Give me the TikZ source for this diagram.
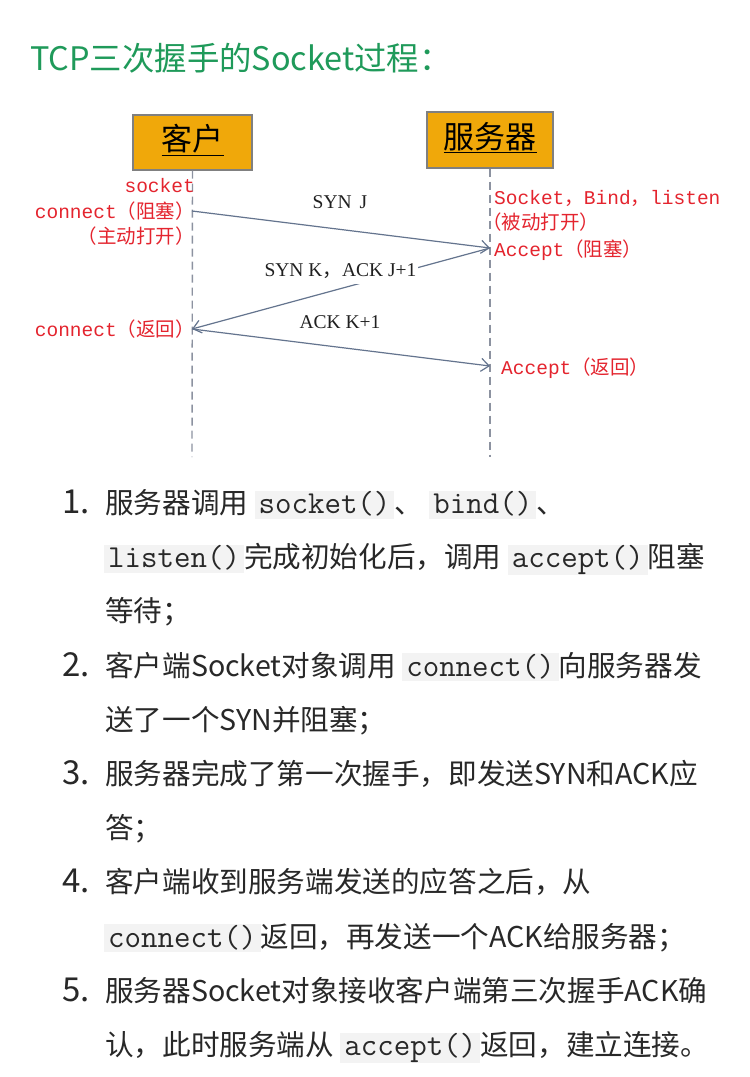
\documentclass[tikz,border=0pt]{standalone}
\usepackage{fontspec}
\setmainfont{Noto Sans CJK SC}
\newfontfamily\lmono{Liberation Mono}
\newfontfamily\tms{Liberation Serif}
\newfontfamily\cjk{Noto Sans CJK SC}
\usetikzlibrary{arrows.meta}
\definecolor{titlegreen}{RGB}{31,154,90}
\definecolor{boxorange}{RGB}{240,168,10}
\definecolor{boxline}{RGB}{128,128,128}
\definecolor{lblred}{RGB}{228,36,46}
\definecolor{arrowc}{RGB}{100,116,142}
\definecolor{lifec}{RGB}{140,146,160}
\definecolor{codebg}{RGB}{243,243,243}
\definecolor{txt}{RGB}{40,40,40}
\newcommand{\fsz}[1]{\fontsize{#1}{#1}\selectfont}
\newcommand{\codebox}[1]{{\setlength{\fboxsep}{0pt}\colorbox{codebg}{\rule[-5pt]{0pt}{28pt}\hspace{4pt}{\ttfamily\fsz{32}#1}\hspace{4pt}}}}
\tikzset{
  actor/.style={draw=boxline, line width=1.3pt, fill=boxorange, inner sep=0pt},
  lifeline/.style={draw=lifec, line width=1.4pt, dash pattern=on 8pt off 5pt},
  msgarrow/.style={draw=arrowc, line width=1.2pt, -{Straight Barb[length=8pt,width=13pt]}},
  redlbl/.style={text=lblred, inner sep=0pt, font=\lmono\fsz{19.5}},
  msglbl/.style={text=txt!80!black, inner sep=0pt, font=\tms\fsz{19.5}},
  listtxt/.style={text=txt, inner sep=0pt, anchor=base west, font=\fsz{28.6}},
  listnum/.style={text=txt, inner sep=0pt, anchor=base west, font=\fsz{33}},
  title/.style={text=titlegreen, inner sep=0pt, anchor=base west, font=\fsz{32.4}}
}
\begin{document}
\begin{tikzpicture}[x=1pt,y=-1pt]
\useasboundingbox (0,0) rectangle (750,1077);
\fill[white] (0,0) rectangle (750,1077);

\node[title] (title) at (30,70.5) {TCP三次握手的Socket过程：};

% actors
\node[actor, minimum width=119pt, minimum height=55pt] (client) at (192.5,142.5) {};
\node[text=black, font=\fsz{31}, inner sep=0pt] (clientlbl) at (192.5,140) {\underline{客户}};
\node[actor, minimum width=126pt, minimum height=56pt] (server) at (490,140) {};
\node[text=black, font=\fsz{31}, inner sep=0pt] (serverlbl) at (490,137.5) {\underline{服务器}};

% lifelines
\coordinate (cend) at (192,457);
\coordinate (send) at (490,457);
\draw[lifeline] (client.south) -- (cend);
\draw[lifeline] (server.south) -- (send);

% message points
\coordinate (c1) at (192,211);
\coordinate (s1) at (490,248);
\coordinate (c2) at (192,329);
\coordinate (s2) at (490,366);

\draw[msgarrow] (c1) -- (s1);
\draw[msgarrow] (s1) -- (c2);
\draw[msgarrow] (c2) -- (s2);

\node[msglbl, anchor=base] (m1) at (340,208.5) {SYN\hspace{8pt}J};
\node[msglbl, anchor=base, fill=white, inner xsep=2pt] (m2) at (340.5,276.5) {\rule[-7.5pt]{0pt}{27.5pt}SYN K{\cjk，}ACK J+1};
\node[msglbl, anchor=base] (m3) at (340,328.5) {ACK K+1};

% red labels
\node[redlbl, anchor=base east] (r1) at (195,192.5) {socket};
\node[redlbl, anchor=base east] (r2) at (195,218.5) {connect{\cjk（阻塞）}};
\node[redlbl, anchor=base east] (r3) at (195,243.5) {\cjk（主动打开）};
\node[redlbl, anchor=base east] (r4) at (195,336.5) {connect{\cjk（返回）}};
\node[redlbl, anchor=base west] (r5) at (494,204.5) {Socket{\cjk，}Bind{\cjk，}listen};
\node[redlbl, anchor=base west] (r6) at (482,229.5) {\cjk（被动打开）};
\node[redlbl, anchor=base west] (r7) at (494,256.5) {Accept{\cjk（阻塞）}};
\node[redlbl, anchor=base west] (r8) at (501,374.5) {Accept{\cjk（返回）}};

% list
\node[listnum] (n1) at (62,513.5) {1.};
\node[listtxt] (l1a) at (105,513.5) {服务器调用 \codebox{socket()}、 \codebox{bind()}、};
\node[listtxt] (l1b) at (104,567.7) {\codebox{listen()}完成初始化后，调用 \codebox{accept()}阻塞};
\node[listtxt] (l1c) at (105,621.9) {等待；};
\node[listnum] (n2) at (62,676.1) {2.};
\node[listtxt] (l2a) at (105,676.1) {客户端Socket对象调用 \codebox{connect()}向服务器发};
\node[listtxt] (l2b) at (105,730.3) {送了一个SYN并阻塞；};
\node[listnum] (n3) at (62,784.5) {3.};
\node[listtxt] (l3a) at (105,784.5) {服务器完成了第一次握手，即发送SYN和ACK应};
\node[listtxt] (l3b) at (105,838.7) {答；};
\node[listnum] (n4) at (62,892.9) {4.};
\node[listtxt] (l4a) at (105,892.9) {客户端收到服务端发送的应答之后，从};
\node[listtxt] (l4b) at (104,947.1) {\codebox{connect()}返回，再发送一个ACK给服务器；};
\node[listnum] (n5) at (62,1001.3) {5.};
\node[listtxt] (l5a) at (105,1001.3) {服务器Socket对象接收客户端第三次握手ACK确};
\node[listtxt] (l5b) at (105,1055.5) {认，此时服务端从 \codebox{accept()}返回，建立连接。};
\end{tikzpicture}
\end{document}
